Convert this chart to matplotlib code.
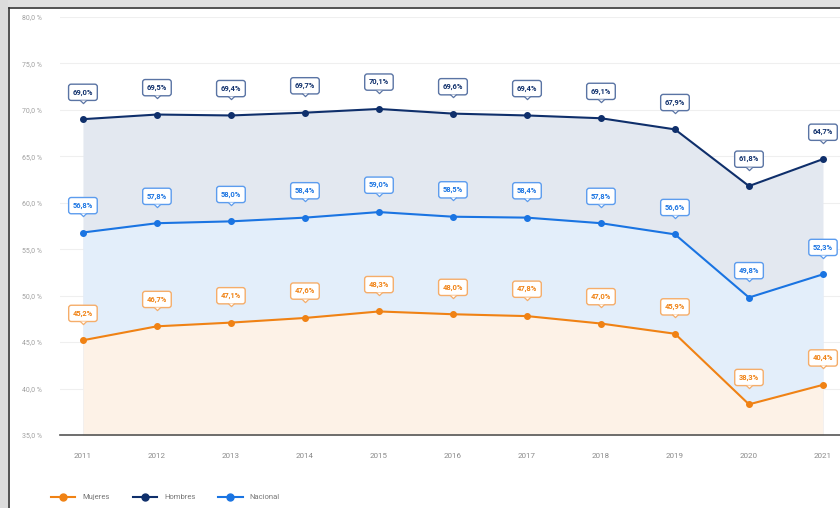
import matplotlib
matplotlib.use("Agg")
import matplotlib.pyplot as plt
import matplotlib.transforms as mtransforms
from matplotlib.patches import Rectangle
from matplotlib.lines import Line2D
from matplotlib.path import Path

years = [2011, 2012, 2013, 2014, 2015, 2016, 2017, 2018, 2019, 2020, 2021]
hombres = [69.0, 69.5, 69.4, 69.7, 70.1, 69.6, 69.4, 69.1, 67.9, 61.8, 64.7]
nacional = [56.8, 57.8, 58.0, 58.4, 59.0, 58.5, 58.4, 57.8, 56.6, 49.8, 52.3]
mujeres = [45.2, 46.7, 47.1, 47.6, 48.3, 48.0, 47.8, 47.0, 45.9, 38.3, 40.4]
yticks = [35, 40, 45, 50, 55, 60, 65, 70, 75, 80]

C_H = "#0f2f6b"
C_N = "#1a74e2"
C_M = "#f08214"
F_H = "#e3e8f0"
F_N = "#e3eefa"
F_M = "#fdf2e7"
E_H = "#5a74a4"
E_N = "#5c9cee"
E_M = "#f5ad6a"

W, H = 840, 508
fig = plt.figure(figsize=(W / 100, H / 100), dpi=100)
fig.patch.set_facecolor("white")

# outer frame
fig.patches.append(Rectangle((0, 1 - 7 / H), 1, 7 / H, transform=fig.transFigure,
                             fc="#e0e0e0", ec="none", zorder=0))
fig.patches.append(Rectangle((0, 0), 8 / W, 1, transform=fig.transFigure,
                             fc="#dcdcdc", ec="none", zorder=0))
fig.add_artist(Line2D([8.5 / W, 8.5 / W], [0, 1 - 7.5 / H], transform=fig.transFigure,
                      color="#333333", lw=1.2))
fig.add_artist(Line2D([8.5 / W, 1], [1 - 7.5 / H, 1 - 7.5 / H], transform=fig.transFigure,
                      color="#333333", lw=1.2))

ax = fig.add_axes([60 / W, 73 / H, 780 / W, (435 - 17) / H])
ax.set_facecolor("none")
ax.set_xlim(2010.69, 2021.23)
ax.set_ylim(35, 80)

for sp in ["top", "right", "left"]:
    ax.spines[sp].set_visible(False)
ax.spines["bottom"].set_color("#555555")
ax.spines["bottom"].set_linewidth(1.2)
ax.spines["bottom"].set_zorder(6)

ax.set_yticks(yticks)
ax.set_yticklabels([f"{v:.1f}".replace(".", ",") + " %" for v in yticks])
ax.set_xticks(years)
ax.set_xticklabels([str(y) for y in years])
ax.tick_params(axis="y", length=0, pad=13, labelsize=5, labelcolor="#a0a0a0")
ax.tick_params(axis="x", length=0, pad=13, labelsize=5.8, labelcolor="#8a8a8a")
for lab in ax.get_yticklabels() + ax.get_xticklabels():
    lab.set_fontfamily("Roboto")
ax.grid(axis="y", color="#efefef", lw=0.8, zorder=0)
ax.set_axisbelow(True)

tail = Path([(-1, 0), (0, -1), (1, 0)], [Path.MOVETO, Path.LINETO, Path.LINETO])

series = [
    ("Hombres", hombres, C_H, F_H, E_H),
    ("Nacional", nacional, C_N, F_N, E_N),
    ("Mujeres", mujeres, C_M, F_M, E_M),
]
FS = 5.4
PAD = 0.55
BOX_BOTTOM = 13.5  # points above the data point
for i, (name, vals, c, f, e) in enumerate(series):
    ax.fill_between(years, 35, vals, color=f, lw=0, zorder=1 + i)
for i, (name, vals, c, f, e) in enumerate(series):
    ax.plot(years, vals, color=c, lw=1.5, marker="o", ms=4, zorder=5)
    for x, v in zip(years, vals):
        lbl = f"{v:.1f}".replace(".", ",") + "%"
        ax.annotate(lbl, xy=(x, v), xytext=(0, BOX_BOTTOM + PAD * FS),
                    textcoords="offset points",
                    ha="center", va="bottom", fontsize=FS, fontweight="bold",
                    color=c, family="Roboto", zorder=8,
                    bbox=dict(boxstyle=f"round,pad={PAD},rounding_size=0.35", fc="white",
                              ec=e, lw=1.0))
        ax.plot([x], [v], marker=tail, ms=4.5, mfc="white", mec=e, mew=0.9,
                linestyle="none", zorder=9,
                transform=ax.transData + mtransforms.ScaledTranslation(
                    0, (BOX_BOTTOM + 0.5) / 72, fig.dpi_scale_trans))

handles = [Line2D([], [], color=C_M, lw=1.5, marker="o", ms=5),
           Line2D([], [], color=C_H, lw=1.5, marker="o", ms=5),
           Line2D([], [], color=C_N, lw=1.5, marker="o", ms=5)]
leg = fig.legend(handles, ["Mujeres", "Hombres", "Nacional"], loc="center left",
                 bbox_to_anchor=(51 / W, 11 / H), ncol=3, frameon=False,
                 prop={"family": "Roboto", "size": 5.5}, handlelength=3.2,
                 handletextpad=0.9, columnspacing=3.0, borderpad=0, borderaxespad=0)
for t in leg.get_texts():
    t.set_color("#777777")

fig.savefig("out.png", dpi=100)
